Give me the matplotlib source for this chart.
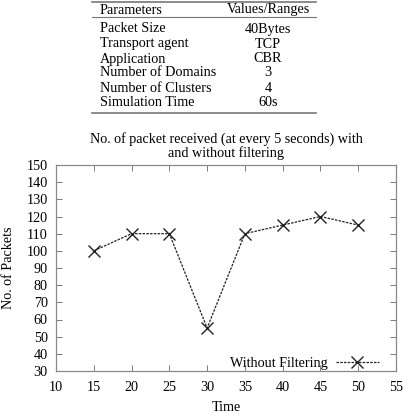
import matplotlib
matplotlib.use("Agg")
import matplotlib.pyplot as plt
from matplotlib.lines import Line2D

plt.rcParams['font.family'] = ['Liberation Serif', 'DejaVu Serif']

params = ["Packet Size", "Transport agent", "Application", "Number of Domains",
          "Number of Clusters", "Simulation Time"]
values = ["40Bytes", "TCP", "CBR", "3", "4", "60s"]
header = ["Parameters", "Values/Ranges"]

time = [15, 20, 25, 30, 35, 40, 45, 50]
packets = [100, 110, 110, 55, 110, 115, 120, 115]
xticks = [10, 15, 20, 25, 30, 35, 40, 45, 50, 55]
yticks = [30, 40, 50, 60, 70, 80, 90, 100, 110, 120, 130, 140, 150]

W, H = 404, 413
fig = plt.figure(figsize=(W/100, H/100), dpi=100)

def fx(px): return px / W
def fy(py): return 1 - py / H

# Table
for yy, lw in [(1.5, 1.2), (17, 0.8), (113, 1.2)]:
    fig.add_artist(Line2D([fx(92), fx(316)], [fy(yy), fy(yy)], color='#777777', lw=lw))
fs_t = 10.2
fig.text(fx(100), fy(10), header[0], fontsize=fs_t, va='center', ha='left')
fig.text(fx(268), fy(10), header[1], fontsize=fs_t, va='center', ha='center')
row_y = [29, 44, 59, 73, 88, 103]
for p, v, yy in zip(params, values, row_y):
    fig.text(fx(100), fy(yy), p, fontsize=fs_t, va='center', ha='left')
    fig.text(fx(268), fy(yy), v, fontsize=fs_t, va='center', ha='center')

# Plot
ax = fig.add_axes([fx(56), fy(371), fx(396) - fx(56), fy(165) - fy(371)])
ax.plot(time, packets, color='#222222', lw=0.9, ls=(0, (2, 1)), marker='x',
        markersize=9, markeredgewidth=1.0, label='Without Filtering')
ax.set_xlim(10, 55)
ax.set_ylim(30, 150)
ax.set_xticks(xticks)
ax.set_yticks(yticks)
ax.tick_params(direction='in', length=4, width=0.6, top=True, right=True,
               labelsize=10.2, color='#666666')
ax.tick_params(axis='x', pad=7)
ax.tick_params(axis='y', pad=6)
for s in ax.spines.values():
    s.set_color('#888888')
    s.set_linewidth(0.9)
ax.set_title("No. of packet received (at every 5 seconds) with\nand without filtering",
             fontsize=10.2, linespacing=1.0, pad=6)
ax.set_xlabel("Time", fontsize=10.2, labelpad=5)
ax.set_ylabel("No. of Packets", fontsize=10.2, labelpad=8)
ax.legend(loc='lower right', bbox_to_anchor=(1 - 16/340, 0.0), frameon=False,
          markerfirst=False, fontsize=10.2, handlelength=3.0, borderaxespad=0.0,
          borderpad=0.1, handletextpad=0.6)

fig.savefig("out.png", dpi=100)
